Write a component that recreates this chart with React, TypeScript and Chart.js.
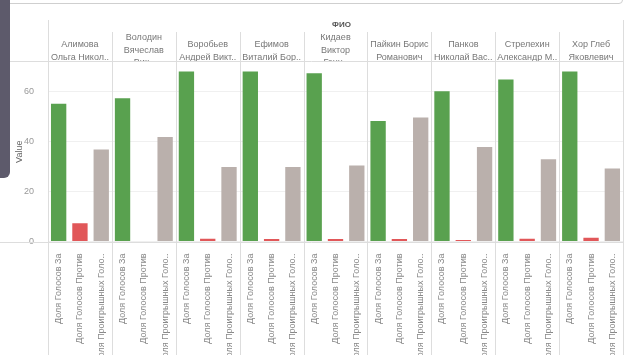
import React, { useEffect, useRef } from "react";
import { Chart, registerables } from "chart.js";

Chart.register(...registerables);

const names: string[][] = [
  ["Алимова", "Ольга Никол.."],
  ["Володин", "Вячеслав", "Вик.."],
  ["Воробьев", "Андрей Викт.."],
  ["Ефимов", "Виталий Бор.."],
  ["Кидаев", "Виктор", "Генн.."],
  ["Пайкин Борис", "Романович"],
  ["Панков", "Николай Вас.."],
  ["Стрелехин", "Александр М.."],
  ["Хор Глеб", "Яковлевич"],
];
const measures = ["Доля Голосов За", "Доля Голосов Против", "Доля Проигрышных Голо.."];
const votesFor = [55.3, 57.5, 68.2, 68.2, 67.5, 48.3, 60.3, 65.0, 68.2];
const votesAgainst = [7.3, 0, 1.1, 1.0, 1.0, 1.0, 0.6, 1.1, 1.5];
const votesLost = [36.9, 41.9, 29.9, 29.9, 30.5, 49.7, 37.9, 33.0, 29.3];
const yTicks = [0, 20, 40, 60];
const headerTitle = "ФИО";
const axisTitle = "Value";
const measureColors = ["#59A14F", "#E15759", "#BAB0AC"];

const FONT = '"Liberation Sans", Arial, sans-serif';

export default function App() {
  const ref = useRef<HTMLCanvasElement | null>(null);

  useEffect(() => {
    if (!ref.current) return;
    const labels: string[] = [];
    const values: number[] = [];
    const colors: string[] = [];
    names.forEach((_, i) => {
      const series = [votesFor[i], votesAgainst[i], votesLost[i]];
      measures.forEach((m, j) => {
        labels.push(m);
        values.push(series[j]);
        colors.push(measureColors[j]);
      });
    });

    const panelPlugin = {
      id: "panels",
      afterDraw(chart: any) {
        const ctx = chart.ctx;
        const area = chart.chartArea;
        const xs = chart.scales.x;
        ctx.save();
        ctx.strokeStyle = "#dddddd";
        ctx.lineWidth = 1;
        ctx.beginPath();
        ctx.moveTo(0, Math.round(area.top) - 0.5);
        ctx.lineTo(area.right, Math.round(area.top) - 0.5);
        ctx.moveTo(0, Math.round(area.bottom) + 0.5);
        ctx.lineTo(area.right, Math.round(area.bottom) + 0.5);
        ctx.stroke();
        for (let i = 0; i <= names.length; i++) {
          const bx = Math.round(xs.getPixelForValue(i * measures.length - 0.5)) + 0.5;
          const top = i === 0 || i === names.length ? 20 : 32;
          ctx.beginPath();
          ctx.moveTo(bx, top);
          ctx.lineTo(bx, chart.height);
          ctx.stroke();
        }
        ctx.fillStyle = "#555";
        ctx.font = `bold 8px ${FONT}`;
        ctx.textAlign = "center";
        ctx.textBaseline = "middle";
        ctx.fillText(headerTitle, (area.left + area.right) / 2 + 6, 25);
        ctx.beginPath();
        ctx.rect(area.left, 30, area.right - area.left, area.top - 31);
        ctx.clip();
        ctx.font = `9px ${FONT}`;
        ctx.fillStyle = "#777";
        names.forEach((lines, i) => {
          const l = xs.getPixelForValue(i * measures.length - 0.5);
          const r = xs.getPixelForValue((i + 1) * measures.length - 0.5);
          const cx = (l + r) / 2;
          const y0 = lines.length > 2 ? 38 : 45;
          lines.forEach((t, k) => ctx.fillText(t, cx, y0 + k * 12.3));
        });
        ctx.restore();
      },
    };

    const chart = new Chart(ref.current, {
      type: "bar",
      data: {
        labels,
        datasets: [
          {
            data: values,
            backgroundColor: colors,
            borderWidth: 0,
            barPercentage: 0.72,
            categoryPercentage: 1,
          },
        ],
      },
      options: {
        animation: false,
        responsive: false,
        devicePixelRatio: 1,
        layout: { padding: { top: 62, right: 7, left: 0, bottom: 0 } },
        plugins: { legend: { display: false }, tooltip: { enabled: false } },
        scales: {
          x: {
            type: "category",
            grid: { display: false },
            border: { display: false },
            ticks: {
              autoSkip: false,
              minRotation: 90,
              maxRotation: 90,
              padding: 4,
              color: "#888",
              font: { family: FONT, size: 9 },
            },
            afterFit: (s: any) => {
              s.height = 113.5;
            },
          },
          y: {
            min: 0,
            max: 72,
            afterBuildTicks: (s: any) => {
              s.ticks = yTicks.map((v) => ({ value: v }));
            },
            grid: { color: "#f0f0f0", drawTicks: false },
            border: { display: true, color: "#dddddd" },
            ticks: {
              padding: 14,
              color: "#999",
              font: { family: FONT, size: 9 },
            },
            title: {
              display: true,
              text: axisTitle,
              color: "#666",
              font: { family: FONT, size: 9 },
              padding: { top: 14, bottom: 0 },
            },
            afterFit: (s: any) => {
              s.width = 48;
            },
          },
        },
      },
      plugins: [panelPlugin],
    });
    return () => chart.destroy();
  }, []);

  return (
    <div style={{ position: "fixed", left: 0, top: 0, width: 630, height: 355, background: "#fff", overflow: "hidden" }}>
      <canvas ref={ref} width={630} height={355} style={{ position: "absolute", left: 0, top: 0, width: 630, height: 355 }} />
      <div
        style={{
          position: "absolute",
          left: 0,
          top: -20,
          width: 621,
          height: 22,
          border: "1px solid #cfcfcf",
          borderRadius: 4,
        }}
      />
      <div
        style={{
          position: "absolute",
          left: 0,
          top: 0,
          width: 10,
          height: 178,
          background: "#5d5a6b",
          borderBottomRightRadius: 6,
        }}
      />
    </div>
  );
}
